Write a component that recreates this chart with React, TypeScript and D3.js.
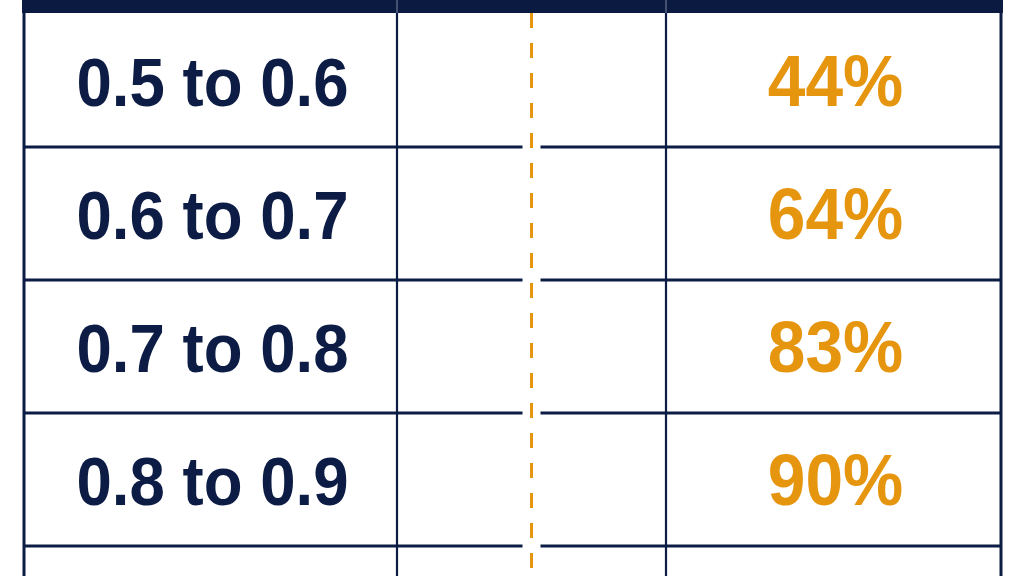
import React from 'react';
import * as d3 from 'd3';

// table content
const bins = ['0.5 to 0.6', '0.6 to 0.7', '0.7 to 0.8', '0.8 to 0.9'];
const shares = [44, 64, 83, 90];
const totalRows = 5; // the fifth row is cut off at the bottom edge

const width = 1024;
const height = 576;

const navy = '#0c1c44';
const orange = '#e6950f';

const App: React.FC = () => {
    // column edges: label | marker | share
    const colEdges = [24, 397, 666, 1001];
    const markerX = (colEdges[1] + colEdges[2]) / 2;
    const headerBottom = 13;

    const y = d3.scaleLinear()
        .domain([0, 4])
        .range([headerBottom + 1, 546]);

    const fmt = (v: number) => d3.format('d')(v) + '%';

    const rowLines = d3.range(1, totalRows).map(i => y(i));
    const gap = 9;

    return (
        <svg width={width} height={height} style={{ position: 'absolute', left: 0, top: 0, background: 'white' }}>
            {/* header band */}
            <rect x={22} y={0} width={1003 - 22} height={headerBottom} fill="#0a1a40" />
            {colEdges.slice(1, 3).map(x => (
                <line key={'h' + x} x1={x} x2={x} y1={0} y2={headerBottom} stroke="#8088a4" strokeWidth={1} />
            ))}

            {/* horizontal row rules, broken where the marker line crosses */}
            {rowLines.map((ry, i) => (
                <g key={'r' + i}>
                    <line x1={colEdges[0]} x2={markerX - gap} y1={ry} y2={ry} stroke={navy} strokeWidth={2.8} />
                    <line x1={markerX + gap} x2={colEdges[3]} y1={ry} y2={ry} stroke={navy} strokeWidth={2.8} />
                </g>
            ))}

            {/* vertical rules */}
            {colEdges.map((x, i) => (
                <line key={'v' + i} x1={x} x2={x} y1={headerBottom} y2={height}
                    stroke={navy} strokeWidth={i === 0 || i === 3 ? 3 : 2.2} />
            ))}

            {/* dashed marker */}
            <line x1={markerX} x2={markerX} y1={headerBottom} y2={height}
                stroke={orange} strokeWidth={3} strokeDasharray="15 15" />

            {bins.map((b, i) => {
                const cx = (colEdges[0] + colEdges[1]) / 2 + 2;
                const cy = y(i + 0.5) + 25;
                return (
                    <text key={'b' + i} x={0} y={0}
                        transform={`translate(${cx},${cy}) scale(0.935,1)`}
                        textAnchor="middle" fontFamily="Liberation Sans, Arial, sans-serif"
                        fontWeight="bold" fontSize={68} fill={navy}>{b}</text>
                );
            })}

            {shares.map((v, i) => {
                const cx = (colEdges[2] + colEdges[3]) / 2 + 2;
                const cy = y(i + 0.5) + 25;
                return (
                    <text key={'s' + i} x={0} y={0}
                        transform={`translate(${cx},${cy}) scale(0.94,1)`}
                        textAnchor="middle" fontFamily="Liberation Sans, Arial, sans-serif"
                        fontWeight="bold" fontSize={72} fill={orange}>{fmt(v)}</text>
                );
            })}
        </svg>
    );
};

export default App;
